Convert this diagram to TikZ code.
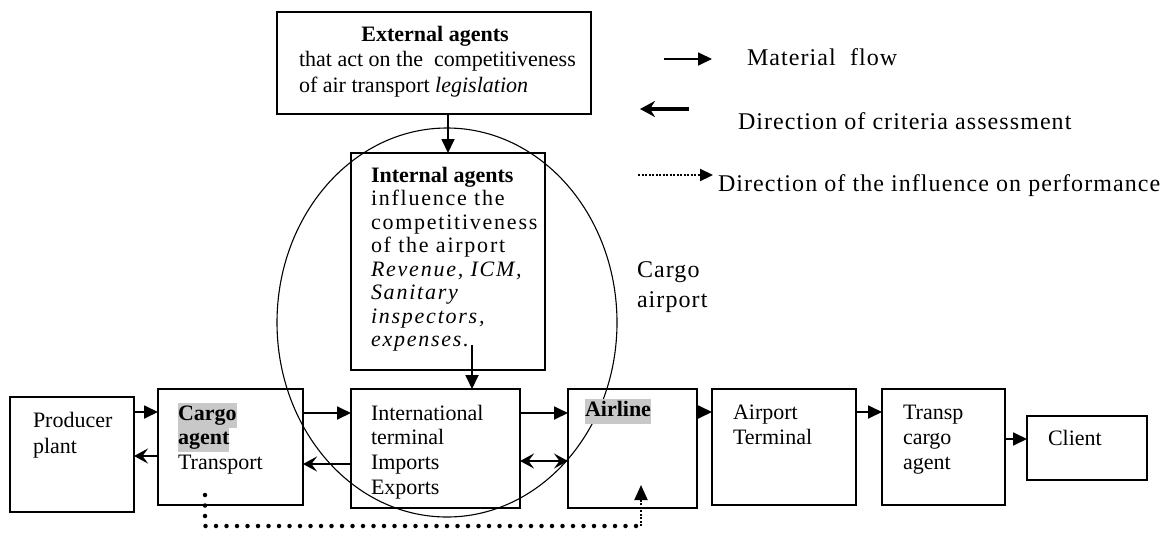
\documentclass[tikz,border=0pt]{standalone}
\usepackage{fontspec}
\setmainfont{Liberation Serif}
\usetikzlibrary{arrows.meta,shapes.geometric}
\definecolor{hl}{RGB}{200,200,200}
\setlength{\fboxsep}{0pt}
\begin{document}
\begin{tikzpicture}[x=1pt,y=-1pt,
  box/.style={draw, line width=1.6pt, inner sep=0pt, outer sep=0pt, anchor=north west},
  txt/.style={inner sep=0pt, outer sep=0pt, anchor=north west, align=left, font=\fontsize{22}{25}\selectfont},
  lgd/.style={inner sep=0pt, outer sep=0pt, anchor=north west, align=left, font=\fontsize{24}{30}\selectfont\addfontfeature{LetterSpace=4.5}},
  flow/.style={line width=1.8pt, -{Triangle[length=14pt,width=13pt]}},
  back/.style={line width=1.8pt, -{Stealth[length=14pt,width=15pt,inset=5.5pt]}},
  both/.style={line width=1.8pt, {Stealth[length=14pt,width=15pt,inset=5.5pt]}-{Stealth[length=14pt,width=15pt,inset=5.5pt]}},
  infl/.style={line width=4.5pt, line cap=round, dash pattern=on 0pt off 10.5pt},
]
\fill[white] (0,0) rectangle (1174,533);
\useasboundingbox (0,0) rectangle (1174,533);

% oval
\node[draw, ellipse, line width=1.1pt, minimum width=340pt, minimum height=389pt, inner sep=0pt] (oval) at (447,322.5) {};

% boxes
\node[box, minimum width=314pt, minimum height=102pt] (ext) at (277,12) {};
\node[box, minimum width=194pt, minimum height=217pt] (int) at (351,153) {};
\node[box, minimum width=124pt, minimum height=115pt] (prod) at (10,397) {};
\node[box, minimum width=145pt, minimum height=116pt] (cargo) at (158,389) {};
\node[box, minimum width=169pt, minimum height=119pt] (intl) at (351,389) {};
\node[box, minimum width=129pt, minimum height=119pt] (air) at (568,389) {};
\node[box, minimum width=144pt, minimum height=116pt] (apt) at (712,389) {};
\node[box, minimum width=123pt, minimum height=116pt] (tr) at (882,389) {};
\node[box, minimum width=120pt, minimum height=64pt] (cl) at (1027,416) {};

% texts
\node[txt, anchor=north] (extT) at (435,26) {\textbf{External agents}};
\node[txt, font=\fontsize{22}{26}\selectfont] (extB) at (299,51) {that act on the\ \ competitiveness\\of air transport \textit{legislation}};
\node[txt, font=\fontsize{22}{23.5}\selectfont\addfontfeature{LetterSpace=8}] (intT) at (371,167) {{\bfseries\addfontfeature{LetterSpace=0}Internal agents}\\influence the\\competitiveness\\of the airport\\\textit{Revenue, ICM,}\\\textit{Sanitary}\\\textit{inspectors,}\\\textit{expenses.}};
\node[lgd] (ca) at (637,262) {Cargo\\airport};
\node[txt, font=\fontsize{22}{26}\selectfont] (prodT) at (33,412) {Producer\\plant};
\node[txt] (cargoT) at (178,403) {\colorbox{hl}{\strut\textbf{Cargo}}\\[-1pt]\colorbox{hl}{\strut\textbf{agent}}\\Transport};
\node[txt, font=\fontsize{22}{24.7}\selectfont] (intlT) at (371,405) {International\\terminal\\Imports\\Exports};
\node[txt] (airT) at (585,399) {\colorbox{hl}{\strut\textbf{Airline}}};
\node[txt] (aptT) at (733,405) {Airport\\Terminal};
\node[txt] (trT) at (903,405) {Transp\\cargo\\agent};
\node[txt] (clT) at (1048,430) {Client};

% legend
\coordinate (l1a) at (664,59); \coordinate (l1b) at (712,59);
\coordinate (l2a) at (689,109); \coordinate (l2b) at (640,109);
\coordinate (l3a) at (638,175); \coordinate (l3b) at (713,175);
\draw[flow] (l1a) -- (l1b);
\draw[line width=3.6pt, -{Stealth[length=15pt,width=16pt,inset=5pt]}] (l2a) -- (l2b);
\draw[line width=2.2pt, dash pattern=on 2pt off 1.5pt, -{Triangle[length=13pt,width=12pt]}] (l3a) -- (l3b);
\node[lgd] (m1) at (747,49) {Material\ \ flow};
\node[lgd] (m2) at (738,113) {Direction of criteria assessment};
\node[lgd] (m3) at (718,175) {Direction of the influence on performance};

% connectors
\draw[flow] (ext.south -| 448,0) -- (int.north -| 448,0);
\coordinate (ia) at (472,345);
\draw[flow] (ia) -- (intl.north -| ia);

\draw[flow] (prod.east |- 0,412) -- (cargo.west |- 0,412);
\draw[back] (cargo.west |- 0,456) -- (prod.east |- 0,456);
\draw[flow] (cargo.east |- 0,413) -- (intl.west |- 0,413);
\draw[back] (intl.west |- 0,464) -- (cargo.east |- 0,464);
\draw[flow] (intl.east |- 0,413) -- (air.west |- 0,413);
\draw[both] (intl.east |- 0,461) -- (air.west |- 0,461);
\draw[flow] (air.east |- 0,412) -- (apt.west |- 0,412);
\draw[flow] (apt.east |- 0,412) -- (tr.west |- 0,412);
\draw[flow] (tr.east |- 0,439) -- (cl.west |- 0,439);

% influence (dotted)
\coordinate (d0) at (205,495);
\coordinate (d1) at (205,526);
\coordinate (d2) at (641,526);
\coordinate (d3) at (641,501);
\coordinate (d4) at (641,485);
\draw[infl] (d0) -- (d1) -- (d2);
\draw[line width=2pt, dash pattern=on 2pt off 1.5pt] (d2) -- (d3);
\draw[line width=2pt, -{Triangle[length=15pt,width=13pt]}] (d3) -- (d4);
\end{tikzpicture}
\end{document}
